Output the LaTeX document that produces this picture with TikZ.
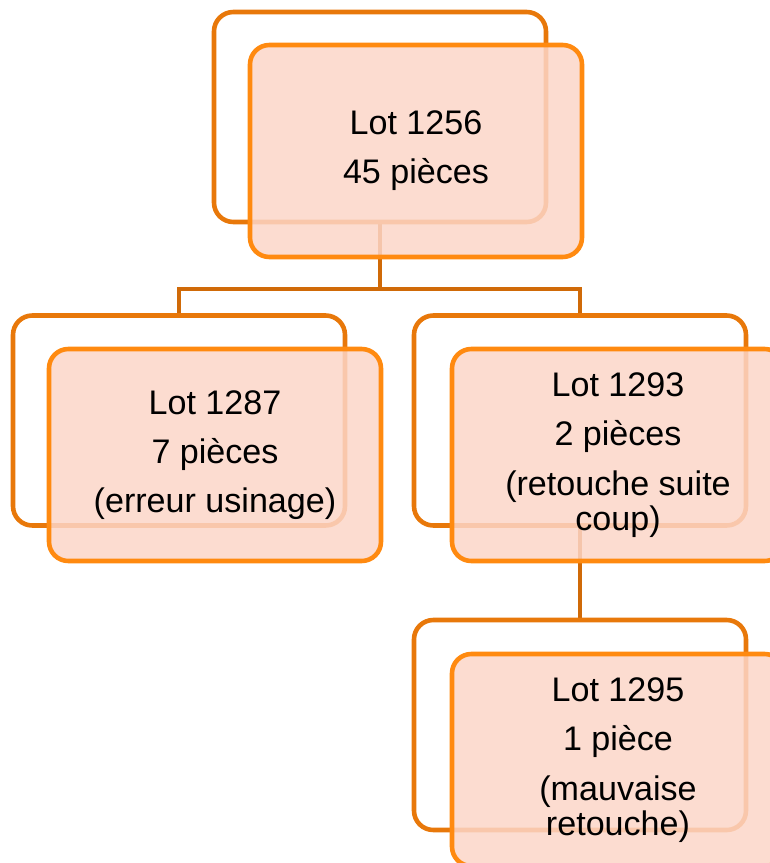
\documentclass[tikz,border=0pt]{standalone}
\usepackage{fontspec}
\setmainfont{Liberation Sans}
\usepackage{tikz}
\usetikzlibrary{backgrounds}
\definecolor{backline}{HTML}{E8780A}
\definecolor{frontline}{HTML}{FF8A10}
\definecolor{salmon}{HTML}{FCD6C8}
\definecolor{linkline}{HTML}{D06A08}

\begin{document}
\begin{tikzpicture}[
  every node/.style={font=\fontsize{19.4}{20}\selectfont},
  backbox/.style={
    draw=backline, line width=2.6pt, rounded corners=11pt,
    minimum width=6.64cm, minimum height=4.2cm,
  },
  frontbox/.style={
    draw=frontline, line width=2.6pt, rounded corners=11pt,
    fill=salmon, fill opacity=0.85, text opacity=1,
    minimum width=6.64cm, minimum height=4.24cm, align=center,
  },
  link/.style={draw=linkline, line width=2.3pt},
]
  \useasboundingbox (0,0) rectangle (15.38,-17.26);

  \node[backbox] (b1256) at (7.6, -2.34) {};
  \node[backbox] (b1287) at (3.58, -8.41) {};
  \node[backbox] (b1293) at (11.6, -8.41) {};
  \node[backbox] (b1295) at (11.6, -14.5) {};

  \node[frontbox] (f1256) at (8.32, -3.02) {Lot 1256\\[8pt]45 pièces};
  \node[frontbox] (f1287) at (4.3, -9.1) {Lot 1287\\[8pt]7 pièces\\[8pt](erreur usinage)};
  \node[frontbox] (f1293) at (12.36, -9.1) {Lot 1293\\[8pt]2 pièces\\[8pt](retouche suite\\coup)};
  \node[frontbox] (f1295) at (12.36, -15.2) {Lot 1295\\[8pt]1 pièce\\[8pt](mauvaise\\retouche)};

  \begin{scope}[on background layer]
    \draw[link] (b1256.south) -- ++(0,-1.3) -| (b1287.north);
    \draw[link] (b1256.south) -- ++(0,-1.3) -| (b1293.north);
    \draw[link] (b1293.south) -- (b1295.north);
  \end{scope}
\end{tikzpicture}
\end{document}
